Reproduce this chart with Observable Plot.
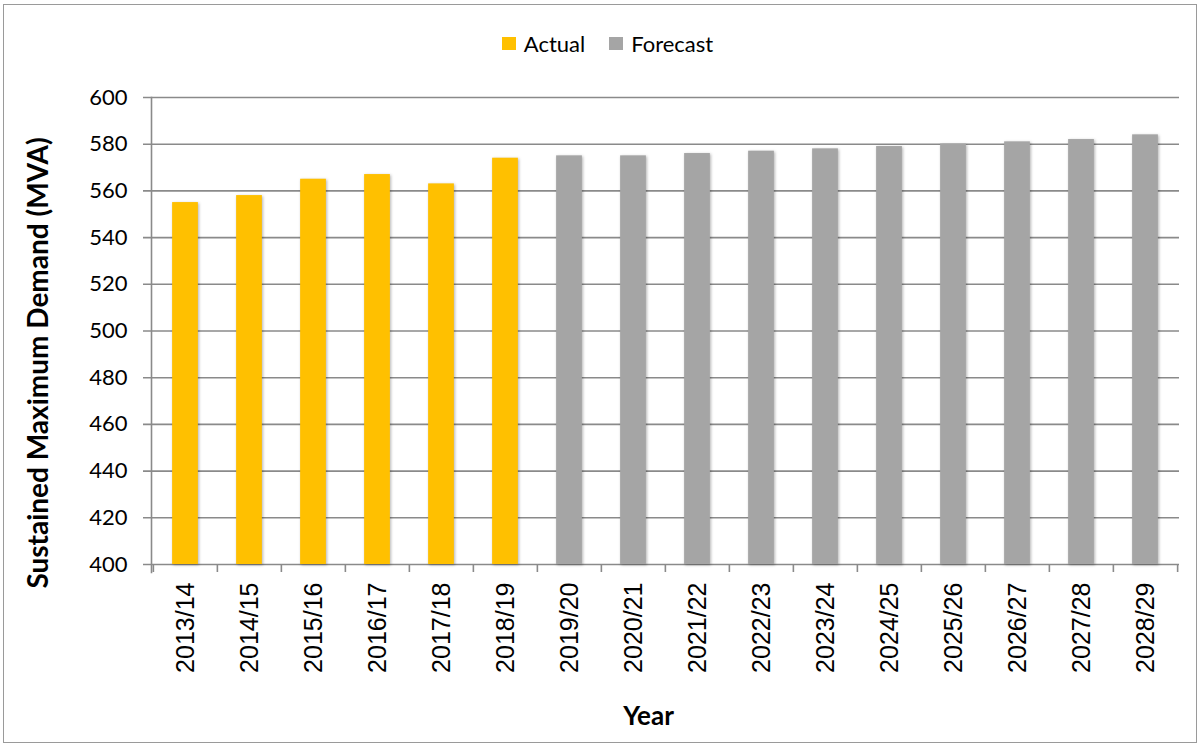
<!DOCTYPE html>
<html>
<head>
<meta charset="utf-8">
<script src="https://cdn.jsdelivr.net/npm/d3@7"></script>
<script src="https://cdn.jsdelivr.net/npm/@observablehq/plot@0.6"></script>
<style>
  html, body { margin: 0; padding: 0; background: #fff; }
  #wrap { position: relative; width: 1203px; height: 747px; overflow: hidden; }
  #border { position: absolute; left: 3px; top: 4px; width: 1192px; height: 737px; border: 1.5px solid #9a9a9a; pointer-events: none; }
  #legend { height: 70px; display: flex; justify-content: center; align-items: center; gap: 0; font-family: Lato, "Open Sans", sans-serif; font-size: 22px; color: #000; padding-top: 16px; box-sizing: border-box; padding-left: 12px; }
  .item { display: flex; align-items: center; margin: 0 12px; }
  .sw { width: 14px; height: 13px; margin-right: 8px; }
  svg g[aria-label="bar"] { filter: drop-shadow(1.5px 1.5px 1.5px rgba(0,0,0,0.3)); }
</style>
</head>
<body>
<div id="wrap">
  <div id="legend"></div>
  <div id="chart"></div>
  <div id="border"></div>
</div>
<script>
const years = ["2013/14","2014/15","2015/16","2016/17","2017/18","2018/19","2019/20","2020/21","2021/22","2022/23","2023/24","2024/25","2025/26","2026/27","2027/28","2028/29"];
const actualValues = [555, 558, 565, 567, 563, 574];
const forecastValues = [575, 575, 576, 577, 578, 579, 580, 581, 582, 584];
const seriesNames = ["Actual", "Forecast"];
const seriesColors = ["#FFC000", "#A5A5A5"];
const yTicks = [400, 420, 440, 460, 480, 500, 520, 540, 560, 580, 600];
const yDomain = [400, 600];
const yTitle = "Sustained Maximum Demand (MVA)";
const xTitle = "Year";

const data = [
  ...actualValues.map((v, i) => ({year: years[i], value: v, type: seriesNames[0]})),
  ...forecastValues.map((v, i) => ({year: years[actualValues.length + i], value: v, type: seriesNames[1]}))
];

// legend
const legend = document.getElementById("legend");
seriesNames.forEach((n, i) => {
  const it = document.createElement("div");
  it.className = "item";
  it.innerHTML = `<span class="sw" style="background:${seriesColors[i]}"></span><span>${n}</span>`;
  legend.appendChild(it);
});

const W = 1203, H = 677;
const mL = 151, mR = 24, mT = 27, mB = 183;
const bw = (W - mL - mR) / years.length;
const grid = "#8a8a8a";

const chart = Plot.plot({
  width: W,
  height: H,
  marginLeft: mL,
  marginRight: mR,
  marginTop: mT,
  marginBottom: mB,
  style: {background: "transparent", overflow: "visible"},
  x: {type: "band", domain: years, padding: 0, axis: null},
  y: {domain: yDomain, axis: null},
  color: {domain: seriesNames, range: seriesColors},
  marks: [
    Plot.ruleY(yTicks, {y: d => d, stroke: grid, strokeWidth: 1.6, insetLeft: -8}),
    Plot.barY(data, {x: "year", y1: yDomain[0], y2: "value", fill: "type", insetLeft: (bw - 26) / 2, insetRight: (bw - 26) / 2}),
    Plot.frame({anchor: "left", stroke: grid, strokeWidth: 1.6, insetBottom: -8}),
    Plot.axisY({ticks: yTicks, tickSize: 0, tickPadding: 24, fontSize: 22, fontFamily: "Lato, 'Open Sans', sans-serif", fill: "#000", label: null}),
    Plot.axisX({tickSize: 0, tickPadding: 18, tickRotate: -90, fontSize: 25, fontFamily: "'Liberation Sans', Arial, sans-serif", fill: "#000", label: null}),
    Plot.axisX({text: null, tickSize: 8, dx: -bw / 2, stroke: grid, strokeWidth: 1.6, label: null}),
    Plot.axisX({ticks: [years[years.length - 1]], text: null, tickSize: 8, dx: bw / 2, stroke: grid, strokeWidth: 1.6, label: null}),
    Plot.text([yTitle], {frameAnchor: "left", textAnchor: "middle", rotate: -90, dx: -112, dy: 32, fontSize: 28, fontWeight: "bold", fontFamily: "Lato, 'Open Sans', sans-serif", fill: "#000"}),
    Plot.text([xTitle], {frameAnchor: "bottom", dx: -17, dy: 160, fontSize: 26, fontWeight: "bold", fontFamily: "Lato, 'Open Sans', sans-serif", fill: "#000"})
  ]
});
document.getElementById("chart").appendChild(chart);
</script>
</body>
</html>
